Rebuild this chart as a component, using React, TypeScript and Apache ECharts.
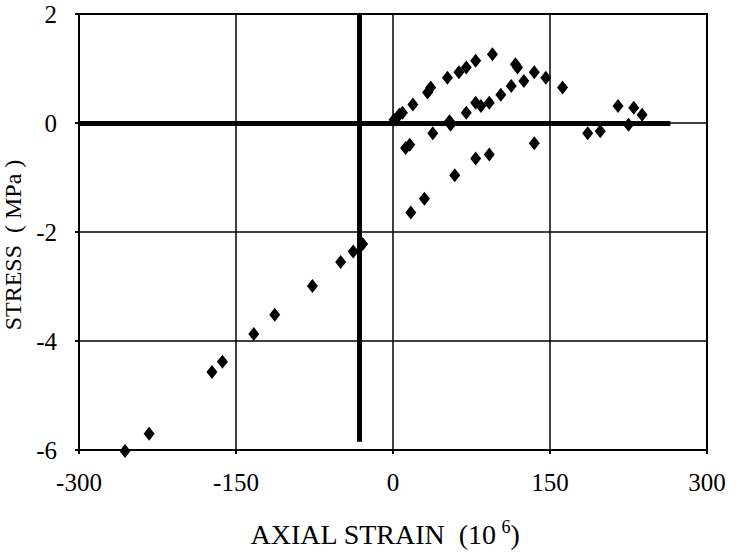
import React, { useEffect, useRef } from "react";
import * as echarts from "echarts";

// Axial strain (10^-6) and stress (MPa)
const strainCompression = [-256, -233, -173, -163, -133, -113, -77, -50, -38, -29];
const stressCompression = [-6.02, -5.7, -4.57, -4.38, -3.87, -3.52, -2.99, -2.55, -2.36, -2.22];

const strainUpper = [6, 19, 33, 36, 52, 63, 70, 79, 95, 117, 119, 135, 146, 162];
const stressUpper = [0.15, 0.34, 0.56, 0.65, 0.83, 0.93, 1.02, 1.14, 1.26, 1.08, 1.02, 0.93, 0.83, 0.65];

const strainMiddle = [1, 9, 38, 54, 55, 70, 79, 84, 92, 103, 113, 125];
const stressMiddle = [0.06, 0.19, -0.19, 0.03, -0.03, 0.19, 0.37, 0.31, 0.37, 0.52, 0.68, 0.77];

const strainLower = [12, 16, 79, 92, 59, 30, 17, 135];
const stressLower = [-0.46, -0.4, -0.65, -0.58, -0.96, -1.39, -1.64, -0.37];

const strainRight = [186, 198, 215, 225, 230, 238];
const stressRight = [-0.19, -0.15, 0.31, -0.03, 0.28, 0.15];

const xTicks = [-300, -150, 0, 150, 300];
const yTicks = [-6, -4, -2, 0, 2];

// Heavy reference lines
const vLineX = -32;
const vLineY = [2, -5.85];
const hLineY = 0;
const hLineX = [-300, 265];

const FONT = "Liberation Serif";

function pairs(xs: number[], ys: number[]) {
  return xs.map((x, i) => [x, ys[i]]);
}

export default function App() {
  const ref = useRef<HTMLDivElement>(null);
  useEffect(() => {
    if (!ref.current) return;
    const chart = echarts.init(ref.current, undefined, { renderer: "svg" });
    const allPoints = [
      ...pairs(strainCompression, stressCompression),
      ...pairs(strainUpper, stressUpper),
      ...pairs(strainMiddle, stressMiddle),
      ...pairs(strainLower, stressLower),
      ...pairs(strainRight, stressRight),
    ];
    chart.setOption({
      animation: false,
      backgroundColor: "#ffffff",
      grid: {
        left: 79,
        right: 31,
        top: 14,
        bottom: 105,
        show: true,
        borderColor: "#000",
        borderWidth: 2,
        containLabel: false,
        outerBoundsMode: "none",
      },
      xAxis: {
        type: "value",
        min: xTicks[0],
        max: xTicks[xTicks.length - 1],
        interval: 150,
        name: "AXIAL STRAIN  (10{sup|6})",
        nameLocation: "middle",
        nameGap: 68,
        nameTextStyle: {
          fontFamily: FONT,
          fontSize: 28,
          color: "#000",
          padding: [0, 16, 0, 0],
          rich: {
            sup: { fontFamily: FONT, fontSize: 18, color: "#000", verticalAlign: "top", padding: [0, 0, 14, 5] },
          },
        },
        axisLine: { show: true, onZero: false, lineStyle: { color: "#000", width: 2 } },
        axisTick: { show: true, length: 4, lineStyle: { color: "#000", width: 2 } },
        axisLabel: { fontFamily: FONT, fontSize: 25, color: "#000", margin: 20 },
        splitLine: { show: true, lineStyle: { color: "#000", width: 1.5 } },
      },
      yAxis: {
        type: "value",
        min: yTicks[0],
        max: yTicks[yTicks.length - 1],
        interval: 2,
        name: "STRESS  ( MPa )",
        nameLocation: "middle",
        nameRotate: 90,
        nameGap: 47,
        nameTextStyle: { fontFamily: FONT, fontSize: 24, color: "#000", padding: [0, 26, 0, 0] },
        axisLine: { show: true, onZero: false, lineStyle: { color: "#000", width: 2 } },
        axisTick: { show: true, length: 4, lineStyle: { color: "#000", width: 2 } },
        axisLabel: { fontFamily: FONT, fontSize: 25, color: "#000", margin: 22 },
        splitLine: { show: true, lineStyle: { color: "#000", width: 1.5 } },
      },
      series: [
        {
          type: "scatter",
          data: allPoints,
          clip: false,
          symbol: "diamond",
          symbolSize: [11, 14],
          itemStyle: { color: "#000", opacity: 1 },
          z: 3,
          markLine: {
            silent: true,
            symbol: "none",
            label: { show: false },
            lineStyle: { color: "#000", width: 5, type: "solid", opacity: 1 },
            data: [
              [{ coord: [vLineX, vLineY[0]] }, { coord: [vLineX, vLineY[1]] }],
              [{ coord: [hLineX[0], hLineY] }, { coord: [hLineX[1], hLineY] }],
            ],
          },
        },
      ],
    });
    return () => chart.dispose();
  }, []);
  return (
    <div
      ref={ref}
      style={{ position: "fixed", left: 0, top: 0, width: 738, height: 555, background: "#fff" }}
    />
  );
}
